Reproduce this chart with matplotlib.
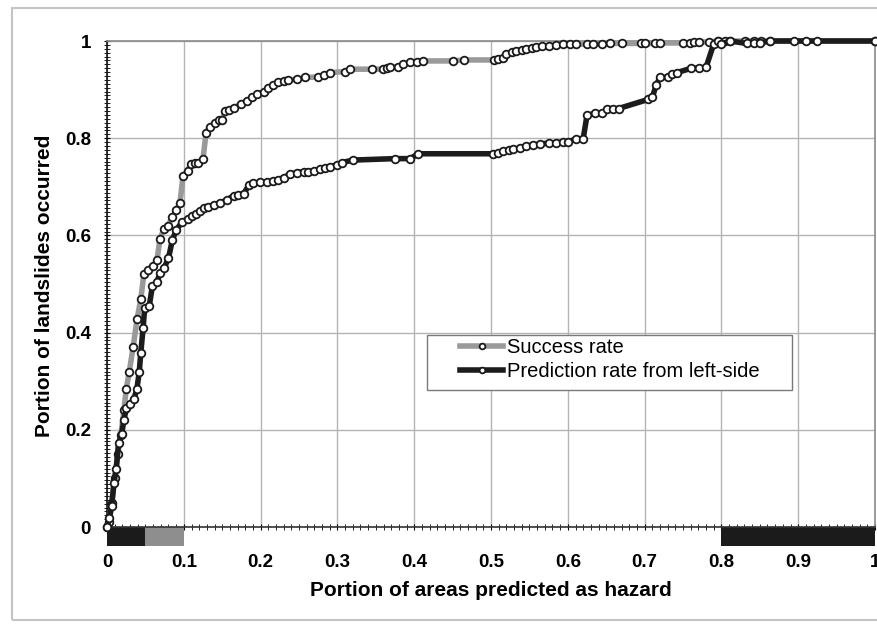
import numpy as np
import matplotlib
matplotlib.use("Agg")
import matplotlib.pyplot as plt
from matplotlib.patches import Rectangle
from matplotlib.ticker import MultipleLocator

plt.rcParams['font.family'] = ['Liberation Sans', 'DejaVu Sans']

# success rate curve (grey)
success_x = [0, 0.003, 0.006, 0.010, 0.014, 0.018, 0.022, 0.025, 0.029, 0.034,
             0.039, 0.044, 0.048, 0.054, 0.060, 0.065, 0.069, 0.074, 0.079, 0.085,
             0.090, 0.095, 0.099, 0.105, 0.109, 0.114, 0.119, 0.125, 0.129, 0.134,
             0.141, 0.146, 0.150, 0.154, 0.159, 0.165, 0.174, 0.182, 0.189, 0.195,
             0.204, 0.210, 0.216, 0.223, 0.230, 0.236, 0.247, 0.258, 0.275, 0.282,
             0.290, 0.310, 0.316, 0.345, 0.359, 0.365, 0.369, 0.379, 0.385, 0.395,
             0.404, 0.411, 0.450, 0.465, 0.504, 0.509, 0.515, 0.520, 0.527, 0.533,
             0.540, 0.546, 0.553, 0.559, 0.566, 0.575, 0.585, 0.594, 0.603, 0.611,
             0.625, 0.633, 0.644, 0.655, 0.670, 0.695, 0.700, 0.714, 0.720, 0.750,
             0.759, 0.764, 0.771, 0.784, 0.796, 0.805, 0.811, 0.831, 0.842, 0.852,
             0.863, 1.0]
success_y = [0, 0.010, 0.050, 0.100, 0.150, 0.190, 0.240, 0.284, 0.320, 0.370,
             0.427, 0.469, 0.521, 0.529, 0.537, 0.549, 0.593, 0.613, 0.619, 0.637,
             0.652, 0.667, 0.723, 0.733, 0.746, 0.748, 0.748, 0.758, 0.811, 0.824,
             0.831, 0.837, 0.838, 0.856, 0.859, 0.863, 0.870, 0.877, 0.884, 0.891,
             0.896, 0.903, 0.910, 0.915, 0.918, 0.920, 0.921, 0.925, 0.926, 0.930,
             0.935, 0.937, 0.942, 0.942, 0.942, 0.945, 0.946, 0.947, 0.952, 0.956,
             0.957, 0.959, 0.959, 0.961, 0.961, 0.962, 0.965, 0.974, 0.977, 0.979,
             0.982, 0.984, 0.986, 0.988, 0.990, 0.990, 0.992, 0.993, 0.993, 0.993,
             0.994, 0.994, 0.994, 0.995, 0.995, 0.995, 0.995, 0.995, 0.996, 0.996,
             0.996, 0.997, 0.998, 0.998, 1.0, 1.0, 1.0, 1.0, 1.0, 1.0,
             1.0, 1.0]

# prediction rate curve (black)
pred_x = [0, 0.003, 0.006, 0.009, 0.012, 0.015, 0.019, 0.022, 0.025, 0.030,
          0.035, 0.039, 0.042, 0.044, 0.047, 0.049, 0.055, 0.059, 0.065, 0.069,
          0.074, 0.080, 0.085, 0.090, 0.098, 0.105, 0.110, 0.116, 0.121, 0.126,
          0.132, 0.139, 0.147, 0.156, 0.165, 0.171, 0.178, 0.185, 0.190, 0.199,
          0.208, 0.216, 0.223, 0.230, 0.238, 0.247, 0.256, 0.262, 0.270, 0.277,
          0.284, 0.290, 0.299, 0.306, 0.320, 0.375, 0.395, 0.405, 0.503, 0.509,
          0.516, 0.523, 0.529, 0.538, 0.546, 0.555, 0.564, 0.575, 0.585, 0.594,
          0.600, 0.611, 0.620, 0.625, 0.635, 0.645, 0.651, 0.659, 0.666, 0.705,
          0.710, 0.715, 0.720, 0.731, 0.736, 0.742, 0.761, 0.771, 0.780, 0.790,
          0.796, 0.800, 0.811, 0.833, 0.842, 0.850, 0.863, 0.895, 0.910, 0.925,
          1.0]
pred_y = [0, 0.018, 0.043, 0.090, 0.120, 0.172, 0.191, 0.220, 0.244, 0.254,
          0.263, 0.285, 0.320, 0.359, 0.410, 0.450, 0.455, 0.495, 0.505, 0.522,
          0.532, 0.553, 0.590, 0.611, 0.628, 0.634, 0.640, 0.645, 0.651, 0.656,
          0.659, 0.663, 0.667, 0.673, 0.682, 0.683, 0.686, 0.704, 0.707, 0.709,
          0.710, 0.712, 0.715, 0.719, 0.726, 0.729, 0.731, 0.730, 0.733, 0.736,
          0.739, 0.741, 0.745, 0.750, 0.755, 0.758, 0.758, 0.768, 0.768, 0.770,
          0.773, 0.775, 0.778, 0.779, 0.784, 0.786, 0.788, 0.790, 0.791, 0.792,
          0.792, 0.799, 0.799, 0.847, 0.851, 0.851, 0.861, 0.861, 0.861, 0.880,
          0.884, 0.909, 0.925, 0.925, 0.932, 0.935, 0.944, 0.944, 0.946, 0.994,
          1.0, 0.994, 1.0, 0.995, 0.996, 0.996, 1.0, 1.0, 1.0, 1.0,
          1.0]

# hazard bands drawn under the x axis
band_lo = [0.0, 0.05, 0.8]
band_hi = [0.05, 0.1, 1.0]
band_col = ['#1b1b1b', '#8e8e8e', '#1b1b1b']

xtick_vals = [0, 0.1, 0.2, 0.3, 0.4, 0.5, 0.6, 0.7, 0.8, 0.9, 1]
xtick_lbls = ['0', '0.1', '0.2', '0.3', '0.4', '0.5', '0.6', '0.7', '0.8', '0.9', '1']
ytick_vals = [0, 0.2, 0.4, 0.6, 0.8, 1]
ytick_lbls = ['0', '0.2', '0.4', '0.6', '0.8', '1']

fig = plt.figure(figsize=(8.78, 6.26), dpi=100)
ax = fig.add_axes([0.1219, 0.1581, 0.8747, 0.7764])

# light outer frame of the chart area
fig.patches.append(Rectangle((0.0137, 0.0096), 1.2, 0.977, transform=fig.transFigure,
                             fill=False, ec='#c4c4c4', lw=1.5))

ax.plot(success_x, success_y, color='#9a9a9a', lw=4, marker='o', ms=5.5,
        mfc='white', mec='#1a1a1a', mew=1.3, clip_on=False, zorder=3,
        label='Success rate')
ax.plot(pred_x, pred_y, color='#1c1c1c', lw=4, marker='o', ms=5.5,
        mfc='white', mec='#1a1a1a', mew=1.3, clip_on=False, zorder=4,
        label='Prediction rate from left-side')

widths = np.array(band_hi) - np.array(band_lo)
ax.bar(band_lo, -0.04, width=widths, bottom=0, align='edge', color=band_col,
       clip_on=False, zorder=2)

ax.set_xlim(0, 1)
ax.set_ylim(0, 1)
ax.set_xticks(xtick_vals, xtick_lbls)
ax.set_yticks(ytick_vals, ytick_lbls)
ax.xaxis.set_minor_locator(MultipleLocator(0.01))
ax.yaxis.set_minor_locator(MultipleLocator(0.008))
for lab in ax.get_xticklabels() + ax.get_yticklabels():
    lab.set_fontweight('bold')
ax.tick_params(axis='x', which='both', direction='inout', length=5, width=0.8,
               pad=17, labelsize=13.5)
ax.tick_params(axis='y', which='both', direction='inout', length=5, width=0.8,
               pad=9, labelsize=13.5)
ax.tick_params(which='minor', length=4, width=0.6)

ax.grid(True, which='major', color='#b4b4b4', lw=1)
ax.set_axisbelow(True)
ax.spines['left'].set_color('#111111')
ax.spines['bottom'].set_color('#333333')
ax.spines['top'].set_color('#8a8a8a')
ax.spines['right'].set_color('#8a8a8a')
for s in ax.spines.values():
    s.set_linewidth(1.2)

fig.text(0.559, 1 - 591 / 626, 'Portion of areas predicted as hazard',
         ha='center', va='center', fontsize=15, fontweight='bold')
fig.text(45 / 878, 1 - 286 / 626, 'Portion of landslides occurred',
         ha='center', va='center', rotation=90, fontsize=15, fontweight='bold')

# legend box
ax.add_patch(Rectangle((0.4167, 0.2819), 0.4753, 0.1132, transform=ax.transAxes,
                       fc='white', ec='#7a7a7a', lw=1, zorder=5, clip_on=False))
leg = ax.legend(loc='upper left', bbox_to_anchor=(0.4596, 0.389), frameon=False,
                borderpad=0, borderaxespad=0, fontsize=14.5, handlelength=2.15,
                handletextpad=0.2, labelspacing=0.25, markerscale=0.75)
leg.set_zorder(6)

fig.savefig('out.png', dpi=100)
